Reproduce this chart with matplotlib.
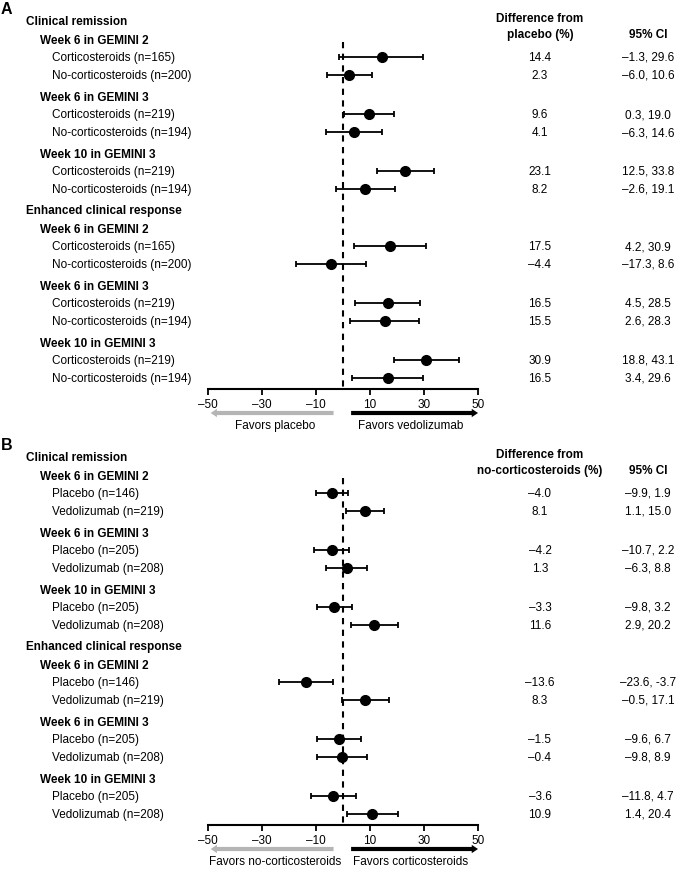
import matplotlib
matplotlib.use('Agg')
import matplotlib.pyplot as plt
from matplotlib.transforms import blended_transform_factory

plt.rcParams['font.family'] = ['Liberation Sans', 'DejaVu Sans']

outcomes = ["Clinical remission", "Enhanced clinical response"]
timepoints = ["Week 6 in GEMINI 2", "Week 6 in GEMINI 3", "Week 10 in GEMINI 3"]

groups_a = [["Corticosteroids (n=165)", "No-corticosteroids (n=200)"],
            ["Corticosteroids (n=219)", "No-corticosteroids (n=194)"],
            ["Corticosteroids (n=219)", "No-corticosteroids (n=194)"]]
est_a = [14.4, 2.3, 9.6, 4.1, 23.1, 8.2, 17.5, -4.4, 16.5, 15.5, 30.9, 16.5]
lo_a = [-1.3, -6.0, 0.3, -6.3, 12.5, -2.6, 4.2, -17.3, 4.5, 2.6, 18.8, 3.4]
hi_a = [29.6, 10.6, 19.0, 14.6, 33.8, 19.1, 30.9, 8.6, 28.5, 28.3, 43.1, 29.6]

groups_b = [["Placebo (n=146)", "Vedolizumab (n=219)"],
            ["Placebo (n=205)", "Vedolizumab (n=208)"],
            ["Placebo (n=205)", "Vedolizumab (n=208)"]]
est_b = [-4.0, 8.1, -4.2, 1.3, -3.3, 11.6, -13.6, 8.3, -1.5, -0.4, -3.6, 10.9]
lo_b = [-9.9, 1.1, -10.7, -6.3, -9.8, 2.9, -23.6, -0.5, -9.6, -9.8, -11.8, 1.4]
hi_b = [1.9, 15.0, 2.2, 8.8, 3.2, 20.2, -3.7, 17.1, 6.7, 8.9, 4.7, 20.4]
# the source prints this one upper limit with a plain hyphen
plain_hyphen_b = [6]

ticks = [-50, -30, -10, 10, 30, 50]

W, H = 678, 870
FS = 8.5
X_EST, X_CI = 540, 648


def fmt(v, dash='\u2013'):
    return f"{v:.1f}".replace('-', dash)


def draw_panel(fig, top, letter, groups, est, lo, hi, head1, head2, fav_left, fav_right, plain=()):
    ax = fig.add_axes([208 / W, 1 - (top + 390) / H, 270 / W, 390 / H])
    ax.set_xlim(-50, 50)
    ax.set_ylim(390, 0)
    for s in ['left', 'right', 'top']:
        ax.spines[s].set_visible(False)
    ax.spines['bottom'].set_linewidth(1.5)
    ax.set_yticks([])
    ax.set_xticks(ticks)
    ax.set_xticklabels([f"{t}".replace('-', '\u2013') for t in ticks], fontsize=FS)
    ax.tick_params(axis='x', direction='out', length=4, width=1.3, pad=2.5)

    tr = blended_transform_factory(fig.transFigure, ax.transData)
    ax.text(1 / W, 10, letter, transform=tr, fontsize=11.5, fontweight='bold', va='center')

    ax.text(X_EST / W, 19, head1, transform=tr, fontsize=FS, fontweight='bold', ha='center', va='center')
    ax.text(X_EST / W, 35, head2, transform=tr, fontsize=FS, fontweight='bold', ha='center', va='center')
    ax.text(X_CI / W, 35, "95% CI", transform=tr, fontsize=FS, fontweight='bold', ha='center', va='center')

    y = 22
    k = 0
    prev = None
    ys = []
    for outc in outcomes:
        if prev is not None:
            y += 21
        ax.text(26 / W, y, outc, transform=tr, fontsize=FS, fontweight='bold', va='center')
        prev = 'h'
        for ti, tp in enumerate(timepoints):
            y += 19 if prev == 'h' else 22
            ax.text(40 / W, y, tp, transform=tr, fontsize=FS, fontweight='bold', va='center')
            prev = 's'
            for g in groups[ti]:
                y += 17 if prev == 's' else 18
                prev = 'd'
                ax.text(52 / W, y, g, transform=tr, fontsize=FS, va='center')
                ax.text(X_EST / W, y, fmt(est[k]), transform=tr, fontsize=FS, ha='center', va='center')
                hi_txt = fmt(hi[k], '-') if k in plain else fmt(hi[k])
                ax.text(X_CI / W, y, f"{fmt(lo[k])}, {hi_txt}", transform=tr,
                        fontsize=FS, ha='center', va='center')
                ys.append(y)
                k += 1

    ax.vlines(0, 43, 390, colors='black', linewidth=1.5, linestyles=(0, (3, 2.6)))
    xerr = [[e - l for e, l in zip(est, lo)], [h - e for e, h in zip(est, hi)]]
    ax.errorbar(est, ys, xerr=xerr, fmt='o', color='black', ms=7, elinewidth=1.3,
                capsize=2.5, capthick=1.3, clip_on=False, zorder=3)

    style = 'simple,head_length=0.45,head_width=0.6,tail_width=0.3'
    ax.annotate('', xy=(-49, 414), xytext=(-3.5, 414), xycoords='data',
                arrowprops=dict(arrowstyle=style, color='#b5b5b5', mutation_scale=10,
                                shrinkA=0, shrinkB=0, lw=0), annotation_clip=False)
    ax.annotate('', xy=(50, 414), xytext=(3, 414), xycoords='data',
                arrowprops=dict(arrowstyle=style, color='black', mutation_scale=10,
                                shrinkA=0, shrinkB=0, lw=0), annotation_clip=False)
    ax.text(-25, 426.5, fav_left, fontsize=FS, ha='center', va='center', clip_on=False)
    ax.text(25, 426.5, fav_right, fontsize=FS, ha='center', va='center', clip_on=False)
    return ax


fig = plt.figure(figsize=(W / 100, H / 100), dpi=100)
draw_panel(fig, 0, "A", groups_a, est_a, lo_a, hi_a, "Difference from", "placebo (%)",
           "Favors placebo", "Favors vedolizumab")
draw_panel(fig, 436, "B", groups_b, est_b, lo_b, hi_b, "Difference from", "no-corticosteroids (%)",
           "Favors no-corticosteroids", "Favors corticosteroids", plain=plain_hyphen_b)
fig.savefig('out.png', dpi=100)
